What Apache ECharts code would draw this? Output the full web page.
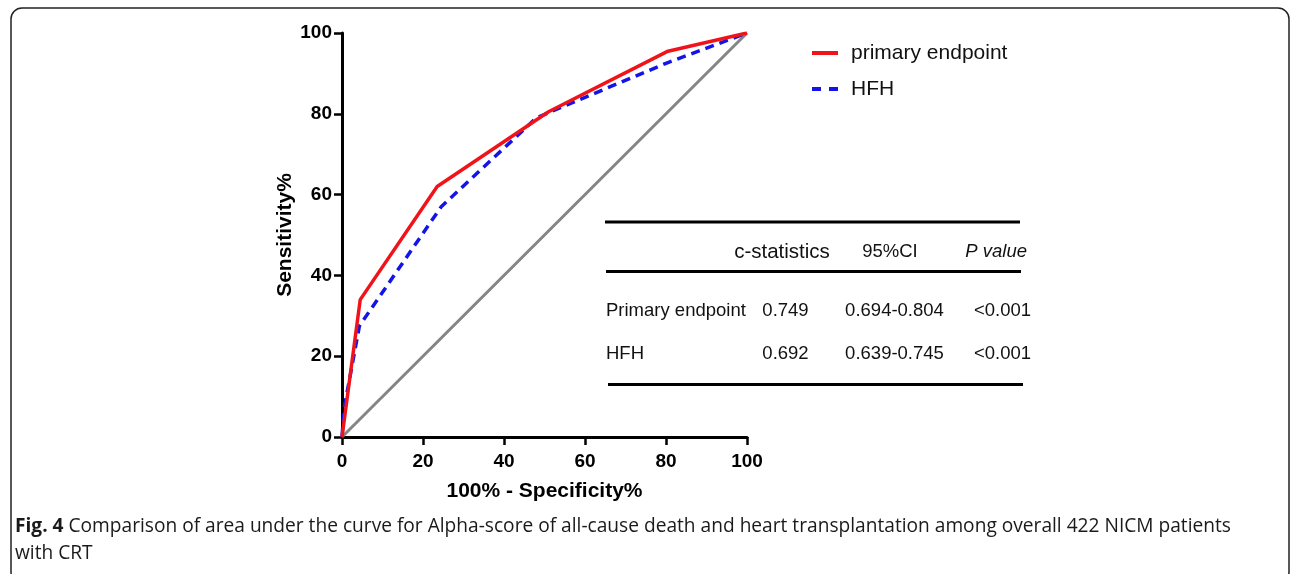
<!DOCTYPE html>
<html><head><meta charset="utf-8">
<script src="https://cdn.jsdelivr.net/npm/echarts@6/dist/echarts.min.js"></script>
<style>html,body{margin:0;padding:0;background:#fff}#c{width:1292px;height:574px}</style>
</head><body><div id="c"></div>
<script>
// ---- data ----
const primaryX = [0, 4.5, 23.5, 51, 80.5, 100];
const primaryY = [0, 34, 62, 80.5, 95.5, 100];
const hfhX = [0, 0.5, 4.3, 24.5, 48, 80, 100];
const hfhY = [0, 7, 27.5, 57, 79, 92.5, 100];
const refX = [0, 100];
const refY = [0, 100];
const seriesNames = ['primary endpoint', 'HFH'];
const axisTicks = [0, 20, 40, 60, 80, 100];
const xAxisName = '100% - Specificity%';
const yAxisName = 'Sensitivity%';
const tableHeader = ['c-statistics', '95%CI', 'P value'];
const tableRows = [
  ['Primary endpoint', '0.749', '0.694-0.804', '<0.001'],
  ['HFH', '0.692', '0.639-0.745', '<0.001']
];
const captionBold = 'Fig. 4';
const captionLine1 = ' Comparison of area under the curve for Alpha-score of all-cause death and heart transplantation among overall 422 NICM patients';
const captionLine2 = 'with CRT';

const pair = (xs, ys) => xs.map((x, i) => [x, ys[i]]);
const chart = echarts.init(document.getElementById('c'), null, {renderer: 'canvas'});

const tFont = 'Liberation Sans, Arial, sans-serif';
const tSize = 18.5;
const tableGraphics = [];
[[605, 1020, 222], [606, 1021, 271.5], [608, 1023, 384.5]].forEach(([x1, x2, y]) => {
  tableGraphics.push({type: 'line', shape: {x1, y1: y, x2, y2: y}, style: {stroke: '#000', lineWidth: 3.2}});
});
const hdrPos = [[782, 'center', 'normal', 20.5], [890, 'center', 'normal', 18.5], [1027, 'right', 'italic', 18.5]];
tableHeader.forEach((t, i) => {
  tableGraphics.push({type: 'text', x: hdrPos[i][0], y: 252, style: {text: t, fontFamily: tFont, fontSize: hdrPos[i][3], fontStyle: hdrPos[i][2], fill: '#111', align: hdrPos[i][1], verticalAlign: 'middle'}});
});
const rowYs = [311, 354];
const colPos = [[606, 'left'], [785.5, 'center'], [894.5, 'center'], [1031, 'right']];
tableRows.forEach((row, r) => {
  row.forEach((t, c) => {
    tableGraphics.push({type: 'text', x: colPos[c][0], y: rowYs[r], style: {text: t, fontFamily: tFont, fontSize: tSize, fill: '#111', align: colPos[c][1], verticalAlign: 'middle'}});
  });
});

const option = {
  animation: false,
  backgroundColor: '#fff',
  grid: {left: 342, right: 545, top: 33, bottom: 137, containLabel: false},
  legend: {
    data: [
      {name: seriesNames[0], icon: 'path://M0,0H26V4H0Z'},
      {name: seriesNames[1], icon: 'path://M0,0H9V4H0Z M17,0H26V4H17Z'}
    ],
    orient: 'vertical',
    left: 807, top: 36,
    itemWidth: 26, itemHeight: 4, itemGap: 12,
    textStyle: {fontFamily: tFont, fontSize: 21, color: '#111', lineHeight: 24, padding: [0, 0, 0, 8]}
  },
  xAxis: {
    type: 'value', min: 0, max: 100, interval: 20,
    name: xAxisName, nameLocation: 'middle', nameGap: 44,
    nameTextStyle: {fontFamily: tFont, fontSize: 21, fontWeight: 'bold', color: '#000', verticalAlign: 'top'},
    axisLine: {show: true, lineStyle: {color: '#000', width: 3}},
    axisTick: {show: true, length: 8, lineStyle: {color: '#000', width: 2.5}},
    axisLabel: {fontFamily: tFont, fontSize: 19, fontWeight: 'bold', color: '#000', margin: 15},
    splitLine: {show: false}
  },
  yAxis: {
    type: 'value', min: 0, max: 100, interval: 20,
    name: yAxisName, nameLocation: 'middle', nameGap: 46,
    nameTextStyle: {fontFamily: tFont, fontSize: 21, fontWeight: 'bold', color: '#000'},
    axisLine: {show: true, lineStyle: {color: '#000', width: 3}},
    axisTick: {show: true, length: 8, lineStyle: {color: '#000', width: 2.5}},
    axisLabel: {fontFamily: tFont, fontSize: 19, fontWeight: 'bold', color: '#000', margin: 10},
    splitLine: {show: false}
  },
  series: [
    {type: 'line', name: 'ref', data: pair(refX, refY), symbol: 'none', silent: true,
      lineStyle: {color: '#858585', width: 3}, z: 1},
    {type: 'line', name: seriesNames[1], data: pair(hfhX, hfhY), symbol: 'none',
      itemStyle: {color: '#1414e6'},
      lineStyle: {color: '#1414e6', width: 3.5, type: [9, 6]}, z: 2},
    {type: 'line', name: seriesNames[0], data: pair(primaryX, primaryY), symbol: 'none',
      itemStyle: {color: '#f0141a'},
      lineStyle: {color: '#f0141a', width: 3.5}, z: 3}
  ],
  graphic: [
    {type: 'rect', shape: {x: 11, y: 8, width: 1278, height: 575, r: 11}, style: {fill: 'none', stroke: '#222', lineWidth: 1.5}, silent: true},
    ...tableGraphics,
    {type: 'text', x: 15, y: 527, style: {
      text: '{b|' + captionBold + '}{n|' + captionLine1 + '}',
      verticalAlign: 'middle',
      rich: {
        b: {fontFamily: 'Open Sans', fontWeight: 'bold', fontSize: 19.15, fill: '#1a1a1a'},
        n: {fontFamily: 'Open Sans', fontSize: 19.15, fill: '#1a1a1a'}
      }
    }},
    {type: 'text', x: 15, y: 554, style: {text: captionLine2, fontFamily: 'Open Sans', fontSize: 19.15, fill: '#1a1a1a', verticalAlign: 'middle'}}
  ]
};
chart.setOption(option);
</script>
</body></html>
